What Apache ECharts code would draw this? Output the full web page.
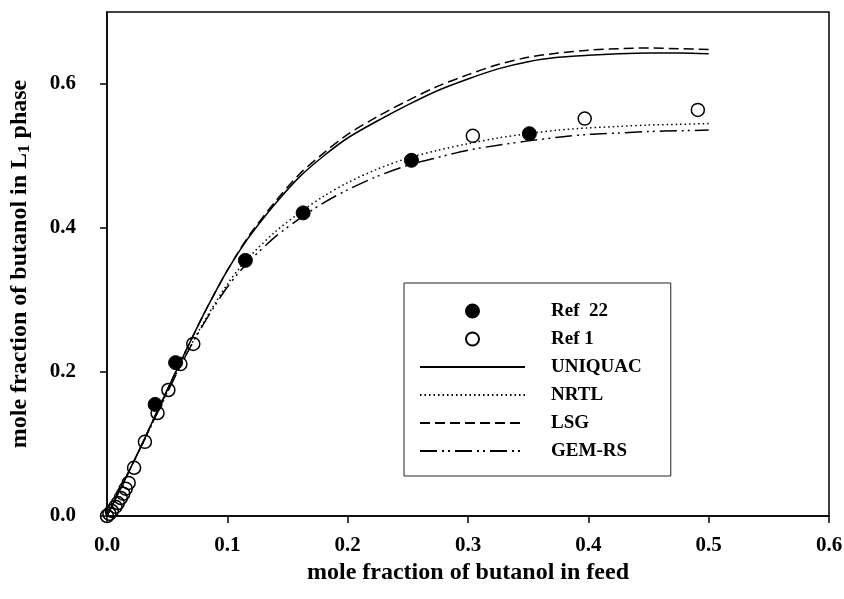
<!DOCTYPE html>
<html>
<head>
<meta charset="utf-8">
<script src="https://cdn.jsdelivr.net/npm/echarts@6/dist/echarts.min.js"></script>
<style>
  html, body { margin: 0; padding: 0; background: #fff; }
  #chart { width: 844px; height: 599px; }
</style>
</head>
<body>
<div id="chart"></div>
<script>
// Experimental tie-line data: [feed mole fraction, L1-phase mole fraction]
const ref22 = [
  [0.040, 0.155], [0.057, 0.213], [0.115, 0.355],
  [0.163, 0.421], [0.253, 0.494], [0.351, 0.531]
];
const ref1 = [
  [0.000, 0.000], [0.002, 0.003], [0.004, 0.007], [0.007, 0.013],
  [0.009, 0.018], [0.0115, 0.025], [0.0135, 0.031], [0.0155, 0.038],
  [0.018, 0.046], [0.0225, 0.067], [0.0315, 0.103], [0.042, 0.143],
  [0.051, 0.175], [0.061, 0.211], [0.0717, 0.239],
  [0.304, 0.528], [0.397, 0.552], [0.491, 0.564]
];

// Model curves sampled on a common feed grid
const feedX = [0, 0.01, 0.02, 0.03, 0.04, 0.05, 0.06, 0.07, 0.08, 0.09, 0.10,
  0.11, 0.12, 0.14, 0.16, 0.18, 0.20, 0.225, 0.25, 0.275, 0.30, 0.325, 0.35,
  0.375, 0.40, 0.425, 0.45, 0.475, 0.50];
const uniquac = [0, 0.034, 0.068, 0.103, 0.139, 0.175, 0.210, 0.245, 0.279, 0.311, 0.341,
  0.368, 0.392, 0.434, 0.471, 0.500, 0.525, 0.549, 0.571, 0.591, 0.607, 0.621, 0.631,
  0.637, 0.640, 0.642, 0.643, 0.643, 0.642];
const nrtl = [0, 0.034, 0.068, 0.102, 0.137, 0.172, 0.206, 0.238, 0.268, 0.296, 0.322,
  0.344, 0.363, 0.395, 0.421, 0.444, 0.463, 0.482, 0.497, 0.508, 0.517, 0.525, 0.531,
  0.536, 0.539, 0.541, 0.543, 0.544, 0.545];
const lsg = [0, 0.034, 0.068, 0.103, 0.139, 0.175, 0.210, 0.245, 0.279, 0.311, 0.341,
  0.369, 0.394, 0.437, 0.475, 0.504, 0.530, 0.555, 0.577, 0.597, 0.613, 0.627, 0.637,
  0.643, 0.647, 0.649, 0.650, 0.649, 0.648];
const gemrs = [0, 0.034, 0.068, 0.102, 0.137, 0.171, 0.205, 0.237, 0.266, 0.293, 0.318,
  0.339, 0.357, 0.388, 0.413, 0.435, 0.453, 0.472, 0.487, 0.498, 0.508, 0.515, 0.521,
  0.526, 0.530, 0.532, 0.534, 0.535, 0.536];

const xTicks = [0, 0.1, 0.2, 0.3, 0.4, 0.5, 0.6];
const yTicks = [0, 0.2, 0.4, 0.6];

const pair = ys => feedX.map((x, i) => [x, ys[i]]);
const serif = 'Liberation Serif';

const chart = echarts.init(document.getElementById('chart'), null, { renderer: 'canvas' });

const curve = (name, ys, type) => ({
  name,
  type: 'line',
  data: pair(ys),
  smooth: 0.3,
  symbol: 'none',
  itemStyle: { color: '#000' },
  lineStyle: { color: '#000', width: 1.5, type },
  z: 3
});

// legend entries for the model curves show only the line sample
const lineEntry = name => ({
  name,
  itemStyle: { color: 'rgba(0,0,0,0)', borderWidth: 0, opacity: 0 }
});

chart.setOption({
  animation: false,
  backgroundColor: '#fff',
  grid: {
    left: 107, right: 15, top: 12, bottom: 83,
    outerBoundsMode: 'none',
    containLabel: false,
    show: true, borderColor: '#000', borderWidth: 1.5, backgroundColor: 'transparent'
  },
  xAxis: {
    type: 'value',
    min: 0, max: 0.6, interval: 0.1,
    name: 'mole fraction of butanol in feed',
    nameLocation: 'middle',
    nameGap: 33,
    nameTextStyle: { fontFamily: serif, fontWeight: 'bold', fontSize: 24, color: '#000' },
    axisLine: { lineStyle: { color: '#000', width: 1.5 } },
    axisTick: { show: true, inside: false, length: 7, lineStyle: { color: '#000', width: 1.5 }, customValues: xTicks },
    axisLabel: {
      fontFamily: serif, fontWeight: 'bold', fontSize: 21, color: '#000', margin: 19,
      customValues: xTicks,
      formatter: v => v.toFixed(1)
    },
    splitLine: { show: false }
  },
  yAxis: {
    type: 'value',
    min: 0, max: 0.7, interval: 0.2,
    name: 'mole fraction of butanol in L{sub|1} phase',
    nameLocation: 'middle',
    nameGap: 74,
    nameTextStyle: {
      fontFamily: serif, fontWeight: 'bold', fontSize: 24, color: '#000',
      rich: {
        sub: { fontFamily: serif, fontWeight: 'bold', fontSize: 17, color: '#000', padding: [10, 0, 0, 0] }
      }
    },
    axisLine: { lineStyle: { color: '#000', width: 1.5 } },
    axisTick: { show: true, inside: false, length: 7, lineStyle: { color: '#000', width: 1.5 }, customValues: yTicks },
    axisLabel: {
      fontFamily: serif, fontWeight: 'bold', fontSize: 21, color: '#000', margin: 31,
      customValues: yTicks,
      formatter: v => v.toFixed(1)
    },
    splitLine: { show: false }
  },
  legend: {
    orient: 'vertical',
    left: 404, top: 283,
    padding: [18, 29, 15, 15],
    itemWidth: 105, itemHeight: 13, itemGap: 8,
    borderColor: '#222', borderWidth: 1,
    backgroundColor: '#fff',
    data: ['Ref  22', 'Ref 1', lineEntry('UNIQUAC'), lineEntry('NRTL'), lineEntry('LSG'), lineEntry('GEM-RS')],
    textStyle: {
      fontFamily: serif, fontWeight: 'bold', fontSize: 19, color: '#000',
      lineHeight: 20, padding: [0, 0, 0, 21]
    }
  },
  series: [
    {
      name: 'Ref  22',
      type: 'scatter',
      data: ref22,
      symbol: 'circle',
      symbolSize: 14,
      itemStyle: { color: '#000', borderColor: '#000', borderWidth: 1, opacity: 1 },
      z: 4
    },
    {
      name: 'Ref 1',
      type: 'scatter',
      data: ref1,
      symbol: 'circle',
      symbolSize: 13,
      itemStyle: { color: 'rgba(255,255,255,0)', borderColor: '#000', borderWidth: 1.5, opacity: 1 },
      z: 4
    },
    curve('UNIQUAC', uniquac, 'solid'),
    curve('NRTL', nrtl, [1.5, 3]),
    curve('LSG', lsg, [10, 5]),
    curve('GEM-RS', gemrs, [17, 5, 2, 4, 2, 5])
  ]
});
</script>
</body>
</html>
